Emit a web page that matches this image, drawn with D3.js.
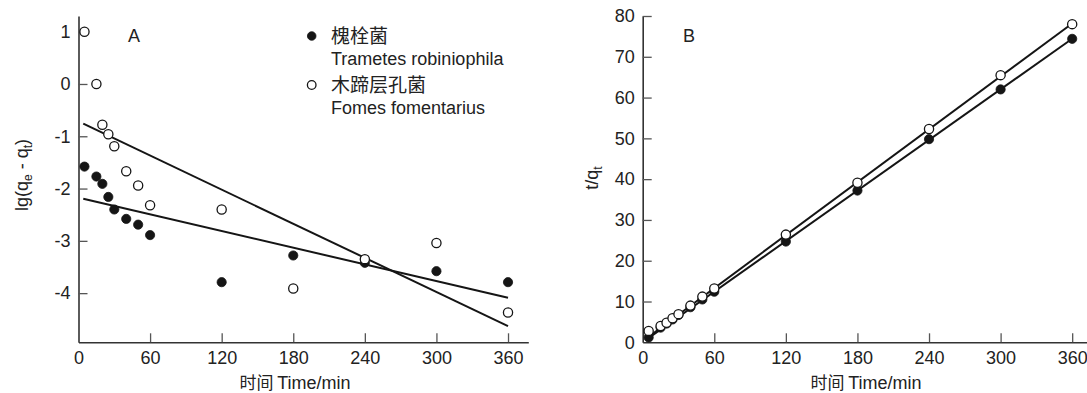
<!DOCTYPE html>
<html><head><meta charset="utf-8">
<script src="https://cdn.jsdelivr.net/npm/d3@7"></script>
<style>
html,body{margin:0;padding:0;background:#fff;}
svg{display:block;font-family:"Liberation Sans",Arial,"Noto Sans CJK SC",sans-serif;}
.cjk{font-family:"Noto Sans CJK SC","Liberation Sans",sans-serif;}
</style></head>
<body><svg id="chart" width="1087" height="393"></svg>
<script>
// ---- data ----
const timeMin = [5, 15, 20, 25, 30, 40, 50, 60, 120, 180, 240, 300, 360];
const xTicks = [0, 60, 120, 180, 240, 300, 360];
// Panel A: lg(qe - qt)
const lgTrametes = [-1.58, -1.77, -1.91, -2.16, -2.40, -2.58, -2.69, -2.89, -3.79, -3.28, -3.42, -3.58, -3.79];
const lgFomes    = [1.00, 0.00, -0.78, -0.96, -1.19, -1.67, -1.94, -2.32, -2.40, -3.91, -3.35, -3.04, -4.37];
const yTicksA = [1, 0, -1, -2, -3, -4];
const fitSlopeA = [-0.00532, -0.01087];      // Trametes, Fomes
const fitInterceptA = [-2.173, -0.716];
const fitRangeA = [4, 360];
// Panel B: t/qt
const tqTrametes = [1.2, 3.6, 4.6, 5.6, 6.7, 8.6, 10.5, 12.4, 24.7, 37.2, 49.8, 62.0, 74.4];
const tqFomes    = [2.8, 4.0, 4.8, 5.9, 6.9, 9.0, 11.2, 13.2, 26.4, 39.1, 52.3, 65.5, 78.0];
const yTicksB = [0, 10, 20, 30, 40, 50, 60, 70, 80];
const fitSlopeB = [0.2067, 0.2163];
const fitInterceptB = [0.0, 0.3];
const fitRangeB = [3, 360];
const seriesNames = ["槐栓菌", "木蹄层孔菌"];
const seriesLatin = ["Trametes robiniophila", "Fomes fomentarius"];
const xLabelCn = "时间", xLabelEn = "Time/min";

// ---- drawing ----
const svg = d3.select("#chart");
const ink = "#151515";
const axisColor = "#333";

function drawPanel(cfg) {
  const g = svg.append("g");
  const x = d3.scaleLinear().domain(cfg.xDomain).range(cfg.xRange);
  const y = d3.scaleLinear().domain(cfg.yDomain).range(cfg.yRange);
  const y0 = cfg.yRange[0];
  const x0 = cfg.xRange[0];

  const xAxis = d3.axisBottom(x).tickValues(xTicks).tickSize(-9).tickSizeOuter(0).tickPadding(9).tickFormat(d => String(d));
  const yAxis = d3.axisLeft(y).tickValues(cfg.yTicks).tickSize(-9).tickSizeOuter(0).tickPadding(8).tickFormat(d => String(d));

  const gx = g.append("g").attr("transform", `translate(0,${y0})`).call(xAxis);
  const gy = g.append("g").attr("transform", `translate(${x0},0)`).call(yAxis);
  [gx, gy].forEach(a => {
    a.select(".domain").attr("stroke", axisColor).attr("stroke-width", 1.6);
    a.selectAll(".tick line").attr("stroke", "#555").attr("stroke-width", 1.3);
    a.selectAll(".tick text").attr("fill", "#222").style("font-size", "18px")
      .style("font-family", '"Liberation Sans",Arial,sans-serif');
  });
  gx.selectAll(".tick").filter(d => d === 0).select("line").remove();
  gy.selectAll(".tick").filter((d, i) => cfg.yTicks[i] === cfg.yDomain[0]).select("line").remove();

  // fit lines
  cfg.fitSlope.forEach((s, i) => {
    const pts = cfg.fitRange.map(t => [t, cfg.fitIntercept[i] + s * t]);
    g.append("path").attr("d", d3.line().x(d => x(d[0])).y(d => y(d[1]))(pts))
      .attr("fill", "none").attr("stroke", ink).attr("stroke-width", 2);
  });

  // points: filled = Trametes, open = Fomes
  cfg.series.forEach((vals, si) => {
    g.append("g").selectAll("circle").data(vals.map((v, i) => [timeMin[i], v])).join("circle")
      .attr("cx", d => x(d[0])).attr("cy", d => y(d[1])).attr("r", 4.6)
      .attr("fill", si === 0 ? ink : "#fff").attr("stroke", ink).attr("stroke-width", si === 0 ? 0.8 : 1.3);
  });

  // panel letter
  g.append("text").attr("x", cfg.letterX).attr("y", 42).text(cfg.letter)
    .attr("fill", "#222").style("font-size", "18px");

  // x label
  const xl = g.append("text").attr("x", cfg.xLabelX).attr("y", 389).attr("text-anchor", "middle")
    .attr("fill", "#222").style("font-size", "18px");
  xl.append("tspan").attr("class", "cjk").style("font-size", "17px").text(xLabelCn + " ");
  xl.append("tspan").text(xLabelEn);

  // y label
  const yl = g.append("text").attr("transform", `translate(${cfg.yLabelX},${cfg.yLabelY}) rotate(-90)`)
    .attr("text-anchor", "middle").attr("fill", "#222").style("font-size", "18px");
  cfg.yLabel.forEach(p => {
    const ts = yl.append("tspan").text(p.t);
    if (p.sub) ts.style("font-size", "12px").attr("dy", "0.35em");
    if (p.back) ts.attr("dy", "-0.23em");
  });
  return {x, y};
}

drawPanel({
  xDomain: [0, 377], xRange: [78.5, 528.3],
  yDomain: [-4.94, 1.3], yRange: [342.3, 16],
  yTicks: yTicksA,
  fitSlope: fitSlopeA, fitIntercept: fitInterceptA, fitRange: fitRangeA,
  series: [lgTrametes, lgFomes],
  letter: "A", letterX: 128,
  xLabelX: 295,
  yLabelX: 28, yLabelY: 175,
  yLabel: [{t: "lg(q"}, {t: "e", sub: true}, {t: " - q", back: true}, {t: "t", sub: true}, {t: ")", back: true}]
});

drawPanel({
  xDomain: [0, 372], xRange: [642.7, 1086.5],
  yDomain: [0, 80], yRange: [342.3, 16],
  yTicks: yTicksB,
  fitSlope: fitSlopeB, fitIntercept: fitInterceptB, fitRange: fitRangeB,
  series: [tqTrametes, tqFomes],
  letter: "B", letterX: 683,
  xLabelX: 866,
  yLabelX: 598, yLabelY: 178,
  yLabel: [{t: "t/q"}, {t: "t", sub: true}]
});

// legend (panel A)
const legY = [36, 85];
seriesNames.forEach((n, i) => {
  svg.append("circle").attr("cx", 311.7).attr("cy", legY[i]).attr("r", 4.3)
    .attr("fill", i === 0 ? ink : "#fff").attr("stroke", ink).attr("stroke-width", i === 0 ? 0.8 : 1.3);
  svg.append("text").attr("class", "cjk").attr("x", 331).attr("y", legY[i] + 6.5)
    .attr("fill", "#222").style("font-size", "19px").text(n);
  svg.append("text").attr("x", 331).attr("y", legY[i] + 29)
    .attr("fill", "#222").style("font-size", "18px").text(seriesLatin[i]);
});
</script></body></html>
